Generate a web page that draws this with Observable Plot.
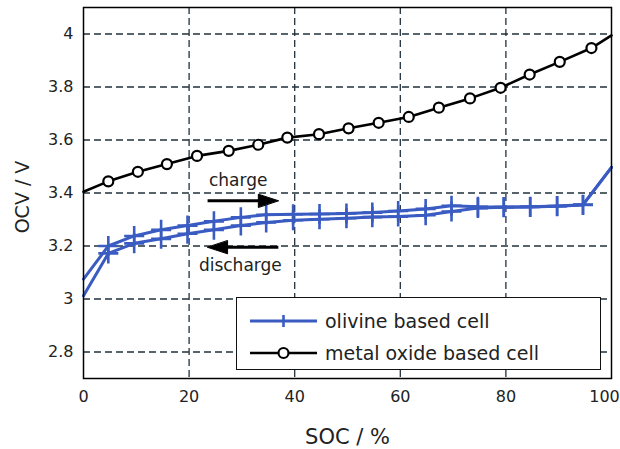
<!DOCTYPE html>
<html><head><meta charset="utf-8">
<script src="https://cdn.jsdelivr.net/npm/d3@7"></script>
<script src="https://cdn.jsdelivr.net/npm/@observablehq/plot@0.6"></script>
<style>
body{margin:0;background:#fff;}
#wrap{position:relative;width:620px;height:449px;overflow:hidden;}
#legend{position:absolute;left:236px;top:297px;width:363px;height:71px;border:1.5px solid #111;background:#fff;font-family:"DejaVu Sans";font-size:19px;color:#222;}
.row{position:absolute;left:13px;height:30px;display:flex;align-items:center;white-space:nowrap;}
.row svg{margin-right:8px;}
</style></head><body><div id="wrap"><div id="legend"></div></div>
<script>
// ---- data ----
const socOxide = [0, 4.7, 10.3, 15.8, 21.5, 27.5, 33.1, 38.6, 44.6, 50.2, 55.9, 61.6, 67.3, 73.2, 79.0, 84.5, 90.2, 96.2, 100];
const ocvOxide = [3.405, 3.444, 3.48, 3.509, 3.54, 3.559, 3.582, 3.609, 3.622, 3.644, 3.665, 3.687, 3.722, 3.757, 3.797, 3.847, 3.895, 3.947, 3.995];

const socOlivine = [0, 4.7, 9.6, 14.7, 19.7, 24.7, 29.8, 34.6, 39.7, 44.7, 49.8, 54.7, 59.6, 64.8, 69.7, 74.7, 79.6, 84.6, 89.7, 94.6, 100];
const ocvCharge = [3.075, 3.20, 3.238, 3.261, 3.277, 3.293, 3.308, 3.318, 3.320, 3.321, 3.323, 3.326, 3.332, 3.340, 3.352, 3.348, 3.347, 3.348, 3.351, 3.356, 3.497];
const ocvDischarge = [3.012, 3.172, 3.21, 3.227, 3.246, 3.261, 3.277, 3.289, 3.297, 3.301, 3.305, 3.309, 3.311, 3.316, 3.330, 3.343, 3.346, 3.347, 3.350, 3.355, 3.497];

const xTicks = [0, 20, 40, 60, 80, 100];
const yTicks = [2.8, 3, 3.2, 3.4, 3.6, 3.8, 4];
const seriesNames = ["olivine based cell", "metal oxide based cell"];
const arrowLabels = ["charge", "discharge"];
const arrowX1 = [23.5, 36.9];
const arrowX2 = [36.9, 23.5];
const arrowY = [3.371, 3.195];
const labelX = [29.3, 29.7];
const labelY = [3.446, 3.127];

// ---- tables ----
const oxide = socOxide.map((s, i) => ({soc: s, ocv: ocvOxide[i]}));
const olivine = [
  ...socOlivine.map((s, i) => ({soc: s, ocv: ocvCharge[i], dir: "charge"})),
  ...socOlivine.map((s, i) => ({soc: s, ocv: ocvDischarge[i], dir: "discharge"}))
];
const isInner = d => d.soc > 0 && d.soc < 100;
const arrows = arrowLabels.map((t, i) => ({label: t, x1: arrowX1[i], x2: arrowX2[i], y: arrowY[i], tx: labelX[i], ty: labelY[i]}));

const blue = "#3a5cc2";
const gridColor = "#22323c";
const head = {draw(context, l, r) { context.moveTo(0, -l); context.lineTo(-r, 0); context.lineTo(r, 0); context.closePath(); }};

const chart = Plot.plot({
  width: 620, height: 449,
  marginLeft: 83, marginRight: 9, marginTop: 7, marginBottom: 71,
  style: {fontFamily: "DejaVu Sans", fontSize: "16px", color: "#222", background: "#fff", overflow: "visible"},
  x: {domain: [0, 100]},
  y: {domain: [2.7, 4.1]},
  marks: [
    Plot.ruleX(xTicks.filter(d => d > 0 && d < 100), {stroke: gridColor, strokeDasharray: "7,4", strokeWidth: 1.3}),
    Plot.ruleY(yTicks, {stroke: gridColor, strokeDasharray: "7,4", strokeWidth: 1.3}),
    Plot.line(oxide, {x: "soc", y: "ocv", stroke: "#000", strokeWidth: 2.6}),
    Plot.dot(oxide.filter(isInner), {x: "soc", y: "ocv", r: 5, stroke: "#000", strokeWidth: 2.2, fill: "#fff"}),
    Plot.line(olivine, {x: "soc", y: "ocv", z: "dir", stroke: blue, strokeWidth: 3}),
    Plot.dot(olivine.filter(isInner), {x: "soc", y: "ocv", symbol: "plus", r: 6.5, stroke: blue, strokeWidth: 2.6}),
    Plot.link(arrows, {x1: "x1", x2: d => d.x2 - Math.sign(d.x2 - d.x1) * 2, y1: "y", y2: "y", stroke: "#000", strokeWidth: 3}),
    Plot.vector(arrows, {x: "x2", y: "y", rotate: d => d.x2 > d.x1 ? 90 : -90, length: 20, r: 6.5, anchor: "end", shape: head, fill: "#000", stroke: "#000", strokeWidth: 1}),
    Plot.text(arrows, {x: "tx", y: "ty", text: "label", fontSize: 17, fill: "#222"}),
    Plot.axisX({ticks: xTicks, tickSize: 0, tickPadding: 12, label: null, tickFormat: d => `${d}`}),
    Plot.axisY({ticks: yTicks, tickSize: 0, tickPadding: 10, label: null, tickFormat: d => `${d}`}),
    Plot.frame({stroke: "#000", strokeWidth: 1.5}),
    Plot.text(["SOC / %"], {frameAnchor: "bottom", dy: 59, lineAnchor: "middle", textAnchor: "middle", fontSize: 21, fill: "#222"}),
    Plot.text(["OCV / V"], {frameAnchor: "left", dx: -61, dy: 4, rotate: -90, lineAnchor: "middle", textAnchor: "middle", fontSize: 19, fill: "#222"})
  ]
});
// nudge the last x tick label so it stays inside the picture
for (const t of chart.querySelectorAll("text")) {
  if (t.textContent === "100") t.setAttribute("dx", "-7");
}
const wrap = document.getElementById("wrap");
wrap.insertBefore(chart, wrap.firstChild);

// legend
const legend = document.getElementById("legend");
const rows = [
  {name: seriesNames[0], top: 8, color: blue, marker: "plus"},
  {name: seriesNames[1], top: 40, color: "#000", marker: "circle"}
];
for (const r of rows) {
  const div = document.createElement("div");
  div.className = "row";
  div.style.top = r.top + "px";
  const mk = r.marker === "plus"
    ? `<line x1="33.5" x2="33.5" y1="9" y2="21" stroke="${r.color}" stroke-width="2.6"/>`
    : `<circle cx="33.5" cy="15" r="5" fill="#fff" stroke="${r.color}" stroke-width="2.2"/>`;
  div.innerHTML = `<svg width="67" height="30"><line x1="0" x2="67" y1="15" y2="15" stroke="${r.color}" stroke-width="${r.marker === "plus" ? 3 : 2.6}"/>${mk}</svg><span>${r.name}</span>`;
  legend.appendChild(div);
}
</script>
</body></html>
